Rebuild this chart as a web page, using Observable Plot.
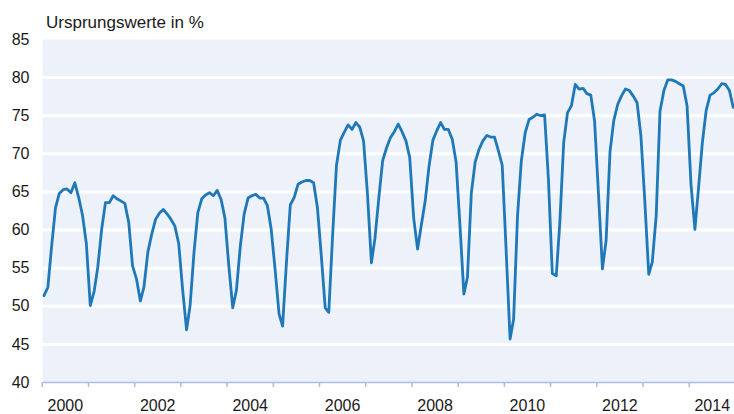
<!DOCTYPE html>
<html>
<head>
<meta charset="utf-8">
<script src="https://cdn.jsdelivr.net/npm/d3@7"></script>
<script src="https://cdn.jsdelivr.net/npm/@observablehq/plot@0.6"></script>
<style>
  html, body { margin: 0; padding: 0; background: #fff; }
  #wrap { position: relative; width: 734px; height: 414px; font-family: "Liberation Sans", Arial, sans-serif; }
  #title { position: absolute; left: 46px; top: 14px; font-size: 17px; line-height: 17px; color: #1a1a1a; white-space: nowrap; }
  #chart { position: absolute; left: 0; top: 0; }
</style>
</head>
<body>
<div id="wrap">
  <div id="chart"></div>
  <div id="title">Ursprungswerte in %</div>
</div>
<script>
// Monthly values (Jan..Dec) per year
const v2000 = [51.4, 52.5, 57.8, 62.9, 64.8, 65.3, 65.4, 64.9, 66.2, 64.3, 61.9, 58.2];
const v2001 = [50.1, 52.0, 55.1, 60.1, 63.6, 63.6, 64.5, 64.1, 63.8, 63.5, 61.0, 55.3];
const v2002 = [53.6, 50.7, 52.5, 57.1, 59.4, 61.4, 62.2, 62.7, 62.1, 61.4, 60.5, 58.2];
const v2003 = [52.2, 46.9, 50.1, 57.1, 62.3, 64.1, 64.6, 64.9, 64.5, 65.2, 64.0, 61.6];
const v2004 = [55.3, 49.8, 52.1, 57.9, 62.1, 64.2, 64.5, 64.7, 64.2, 64.2, 63.2, 60.1];
const v2005 = [54.8, 49.0, 47.4, 55.9, 63.3, 64.3, 66.0, 66.3, 66.5, 66.5, 66.2, 63.0];
const v2006 = [56.6, 49.8, 49.2, 59.5, 68.5, 71.8, 72.8, 73.8, 73.2, 74.1, 73.5, 71.7];
const v2007 = [64.7, 55.7, 58.9, 64.3, 69.1, 70.8, 72.1, 72.9, 73.9, 72.9, 71.7, 69.5];
const v2008 = [61.6, 57.5, 60.6, 63.8, 68.3, 71.8, 73.0, 74.1, 73.2, 73.2, 71.9, 69.0];
const v2009 = [60.6, 51.6, 53.8, 64.9, 68.9, 70.6, 71.7, 72.4, 72.2, 72.2, 70.4, 68.5];
const v2010 = [57.3, 45.7, 48.3, 61.9, 69.1, 72.8, 74.5, 74.8, 75.2, 75.0, 75.1, 66.7];
const v2011 = [54.3, 54.0, 60.9, 71.5, 75.4, 76.3, 79.1, 78.5, 78.6, 77.9, 77.7, 74.3];
const v2012 = [64.7, 54.9, 58.6, 70.3, 74.4, 76.5, 77.6, 78.5, 78.3, 77.6, 76.7, 72.4];
const v2013 = [63.8, 54.2, 55.8, 61.9, 75.6, 78.3, 79.7, 79.7, 79.5, 79.2, 78.9, 76.3];
const v2014 = [66.0, 60.1, 65.4, 71.5, 75.7, 77.7, 78.0, 78.5, 79.2, 79.1, 78.3, 76.1];

const years = [2000, 2001, 2002, 2003, 2004, 2005, 2006, 2007, 2008, 2009, 2010, 2011, 2012, 2013, 2014];
const yearValues = [v2000, v2001, v2002, v2003, v2004, v2005, v2006, v2007, v2008, v2009, v2010, v2011, v2012, v2013, v2014];
const xTickLabels = ["2000", "2002", "2004", "2006", "2008", "2010", "2012", "2014"];
const yTicks = [40, 45, 50, 55, 60, 65, 70, 75, 80, 85];

const data = [];
years.forEach((yr, i) => {
  yearValues[i].forEach((v, m) => data.push({date: new Date(Date.UTC(yr, m, 15)), value: v}));
});

const yearStarts = years.map(y => new Date(Date.UTC(y, 0, 1)));
const labelDates = xTickLabels.map(s => new Date(Date.UTC(+s, 6, 2)));

const bg = "#ecf1fa";
const lineColor = "#1f78b8";
const axisColor = "#a8bde8";

const chart = Plot.plot({
  width: 734,
  height: 414,
  marginLeft: 42,
  marginRight: 0,
  marginTop: 39,
  marginBottom: 32,
  style: {fontFamily: "'Liberation Sans', Arial, sans-serif", fontSize: "16px", color: "#1a1a1a", background: "transparent"},
  x: {type: "utc", domain: [new Date(Date.UTC(2000, 0, 1)), new Date(Date.UTC(2015, 0, 1))], range: [41.7, 734.9], label: null},
  y: {domain: [40, 85], label: null},
  marks: [
    Plot.frame({fill: bg, stroke: null}),
    Plot.gridY(yTicks.filter(t => t > 40 && t < 85), {stroke: "#ffffff", strokeOpacity: 1, strokeWidth: 3}),
    Plot.ruleY([40], {stroke: axisColor, strokeWidth: 1.5}),
    Plot.axisY(yTicks, {tickSize: 0, tickPadding: 13, fontSize: 16, fill: "#1a1a1a", tickFormat: d => String(d), label: null}),
    Plot.axisX(yearStarts, {tickSize: 5, stroke: axisColor, strokeWidth: 1.5, tickFormat: () => "", label: null}),
    Plot.axisX(labelDates, {tickSize: 0, tickPadding: 17, fontSize: 16, fill: "#1a1a1a", tickFormat: (d, i) => xTickLabels[i], label: null}),
    Plot.line(data, {x: "date", y: "value", stroke: lineColor, strokeWidth: 2.8, strokeLinejoin: "round"})
  ]
});
document.getElementById("chart").appendChild(chart);
</script>
</body>
</html>
